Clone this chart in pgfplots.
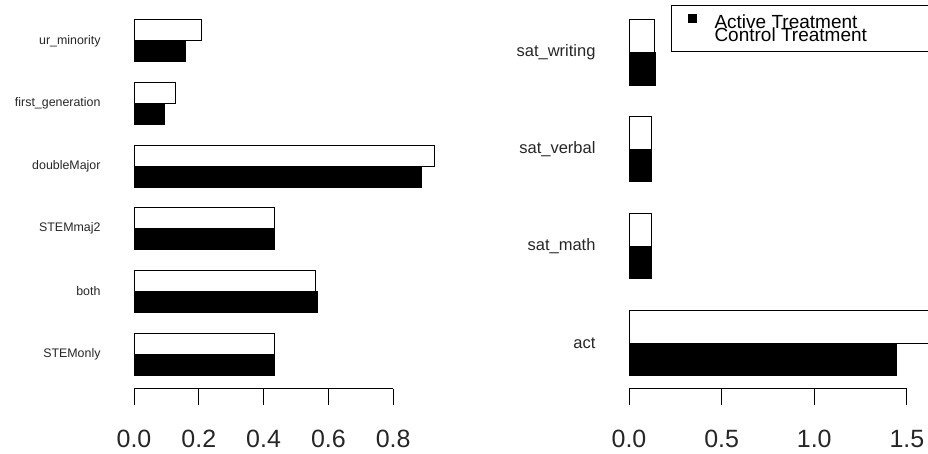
\documentclass[border=0pt]{standalone}
\usepackage{fontspec}
\setmainfont{Liberation Sans}
\usepackage{pgfplots}
\pgfplotsset{compat=1.18}
\begin{document}
\begin{tikzpicture}[x=1pt,y=1pt]
\clip (0,0) rectangle (928,454);
\useasboundingbox (0,0) rectangle (928,454);
\pgfplotsset{
  mystyle/.style={
    scale only axis, clip=false,
    axis x line*=bottom, axis y line*=left,
    y axis line style={draw=none},
    major y tick style={draw=none},
    major x tick style={line width=1pt, black},
    major tick length=16pt, tick align=outside,
    /pgf/number format/assume math mode=true,
    /pgf/number format/.cd, fixed, fixed zerofill, precision=1, /pgfplots/.cd,
    xticklabel style={font=\fontsize{25}{25}\selectfont, text=black!85, yshift=-22pt},
  }
}
% left panel
\begin{axis}[mystyle,
  at={(134pt,65pt)}, anchor=south west,
  width=307.8pt, height=379pt,
  xmin=0, xmax=0.95, ymin=-0.559, ymax=5.495,
  x axis line style={draw=black, line width=1pt, shorten >=48.6pt},
  xtick={0,0.2,0.4,0.6,0.8},
  ytick={0,1,2,3,4,5},
  yticklabels={STEMonly,both,STEMmaj2,doubleMajor,first\_generation,ur\_minority},
  yticklabel style={font=\fontsize{12.4}{14}\selectfont, text=black!85, xshift=-14pt},
  xbar, bar width=21pt,
]
\addplot[xbar, fill=white, draw=black, line width=1pt, bar shift=10.5pt] coordinates {(0.435,0) (0.559,1) (0.435,2) (0.926,3) (0.127,4) (0.207,5)};
\addplot[xbar, fill=black, draw=black, line width=1pt, bar shift=-10.5pt] coordinates {(0.435,0) (0.565,1) (0.435,2) (0.886,3) (0.093,4) (0.160,5)};
\end{axis}
% right panel
\begin{axis}[mystyle,
  at={(629pt,65pt)}, anchor=south west,
  width=299pt, height=379pt,
  xmin=0, xmax=1.614, ymin=-0.475, ymax=3.439,
  x axis line style={draw=black, line width=1pt, shorten >=21.1pt},
  xtick={0,0.5,1,1.5},
  ytick={0,1,2,3},
  yticklabels={act,sat\_math,sat\_verbal,sat\_writing},
  yticklabel style={font=\fontsize{16.5}{18}\selectfont, text=black!85, xshift=-14pt},
  xbar, bar width=32.5pt,
  legend style={at={(0.1405,1.013)}, anchor=north west, draw=black, line width=1pt,
    inner xsep=0pt, inner ysep=8.5pt,
    nodes={inner sep=0pt},
    font=\fontsize{19}{19}\selectfont, row sep=-2pt, cells={anchor=west}},
]
\addplot[xbar, fill=white, draw=black, line width=1pt, bar shift=16.25pt, forget plot] coordinates {(1.63,0) (0.124,1) (0.119,2) (0.140,3)};
\addplot[xbar, fill=black, draw=black, line width=1pt, bar shift=-16.25pt, forget plot] coordinates {(1.446,0) (0.124,1) (0.124,2) (0.142,3)};
\addlegendimage{legend image code/.code={\path[draw=none,fill=none] (0pt,0pt) rectangle (43pt,1pt); \fill[black] (17pt,0pt) rectangle (25pt,8pt);}}
\addlegendentry{Active Treatment}
\addlegendimage{legend image code/.code={\path[draw=none,fill=none] (0pt,0pt) rectangle (43pt,1pt);}}
\addlegendentry{\makebox[230pt][l]{Control Treatment}}
\end{axis}
\end{tikzpicture}
\end{document}
